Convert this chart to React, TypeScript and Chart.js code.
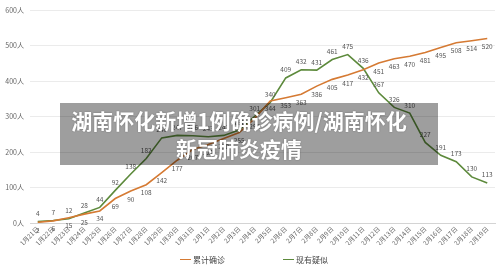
import React, { useEffect, useRef } from "react";
import { Chart, registerables } from "chart.js";

Chart.register(...registerables);

const categories = [
  "1月21日", "1月22日", "1月23日", "1月24日", "1月25日", "1月26日", "1月27日", "1月28日", "1月29日", "1月30日",
  "1月31日", "2月1日", "2月2日", "2月3日", "2月4日", "2月5日", "2月6日", "2月7日", "2月8日", "2月9日",
  "2月10日", "2月11日", "2月12日", "2月13日", "2月14日", "2月15日", "2月16日", "2月17日", "2月18日", "2月19日",
];

const confirmedLabel = "累计确诊";
const confirmed = [2, 6, 15, 25, 34, 69, 90, 108, 142, 177, 207, 221, 238, 255, 295, 344, 353, 363, 386, 405, 417, 432, 451, 463, 470, 481, 495, 508, 514, 520];

const suspectedLabel = "现有疑似";
const suspected = [4, 7, 12, 28, 44, 92, 138, 182, 240, 247, 246, 243, 247, 262, 301, 340, 409, 432, 431, 461, 475, 436, 367, 326, 310, 227, 191, 173, 130, 113];

const yTicks = [0, 100, 200, 300, 400, 500, 600];
const yUnit = "人";

const titleLine1 = "湖南怀化新增1例确诊病例/湖南怀化";
const titleLine2 = "新冠肺炎疫情";

const ORANGE = "#d57a33";
const GREEN = "#5d8a3c";
const FONT = "'Noto Sans CJK SC', 'Noto Sans', sans-serif";

const valueLabels = {
  id: "valueLabels",
  afterDatasetsDraw(chart: any) {
    const ctx = chart.ctx;
    ctx.save();
    ctx.font = `6.5px ${FONT}`;
    ctx.fillStyle = "#555";
    ctx.textAlign = "center";
    ctx.textBaseline = "middle";
    chart.data.datasets.forEach((ds: any, di: number) => {
      const meta = chart.getDatasetMeta(di);
      const dy = di === 0 ? 8 : -8;
      meta.data.forEach((pt: any, i: number) => {
        ctx.fillText(String(ds.data[i]), pt.x, pt.y + dy);
      });
    });
    ctx.restore();
  },
};

export default function App() {
  const ref = useRef<HTMLCanvasElement | null>(null);

  useEffect(() => {
    if (!ref.current) return;
    const chart = new Chart(ref.current, {
      type: "line",
      data: {
        labels: categories,
        datasets: [
          {
            label: confirmedLabel,
            data: confirmed,
            borderColor: ORANGE,
            backgroundColor: ORANGE,
            borderWidth: 1.6,
            pointRadius: 0,
            tension: 0,
          },
          {
            label: suspectedLabel,
            data: suspected,
            borderColor: GREEN,
            backgroundColor: GREEN,
            borderWidth: 1.6,
            pointRadius: 0,
            tension: 0,
          },
        ],
      },
      options: {
        animation: false,
        responsive: false,
        maintainAspectRatio: false,
        layout: { padding: { left: 0, right: 5, top: 4, bottom: 24 } },
        plugins: {
          legend: { display: false },
          tooltip: { enabled: false },
        },
        scales: {
          x: {
            offset: true,
            grid: { display: false, drawTicks: false },
            border: { display: true, color: "#d4d4d4", width: 1 },
            ticks: {
              minRotation: 45,
              maxRotation: 45,
              autoSkip: false,
              padding: 2,
              color: "#666",
              font: { size: 6.5, family: FONT },
            },
            afterFit(scale: any) {
              scale.height = 22;
            },
          },
          y: {
            min: 0,
            max: 600,
            afterBuildTicks(scale: any) {
              scale.ticks = yTicks.map((v) => ({ value: v }));
            },
            grid: { color: "#ebebeb", drawTicks: false },
            border: { display: false },
            ticks: {
              padding: 6,
              color: "#666",
              font: { size: 7, family: FONT },
              callback: (v: any) => `${v}${yUnit}`,
            },
            afterFit(scale: any) {
              scale.width = 30;
            },
          },
        },
      },
      plugins: [valueLabels],
    });
    return () => chart.destroy();
  }, []);

  const legendItem = (left: number, color: string, text: string) => (
    <div style={{ position: "absolute", left, top: 254, display: "flex", alignItems: "center", fontSize: 8, color: "#444", whiteSpace: "nowrap" }}>
      <span style={{ display: "inline-block", width: 11, height: 1.5, background: color, marginRight: 2 }} />
      <span>{text}</span>
    </div>
  );

  return (
    <div style={{ position: "fixed", left: 0, top: 0, width: 500, height: 269, background: "#fff", fontFamily: FONT }}>
      <canvas ref={ref} width={500} height={269} style={{ position: "absolute", left: 0, top: 0 }} />
      {legendItem(180, ORANGE, confirmedLabel)}
      {legendItem(283, GREEN, suspectedLabel)}
      <div style={{ position: "absolute", left: 60, top: 103, width: 378, height: 62, background: "rgba(0,0,0,0.38)" }} />
      <div
        style={{
          position: "absolute",
          left: 39,
          top: 106,
          width: 400,
          textAlign: "center",
          color: "#fff",
          fontWeight: 700,
          fontSize: 21,
          lineHeight: "28px",
          textShadow: "0 0 2px rgba(0,0,0,0.3)",
        }}
      >
        <div>{titleLine1}</div>
        <div>{titleLine2}</div>
      </div>
    </div>
  );
}
